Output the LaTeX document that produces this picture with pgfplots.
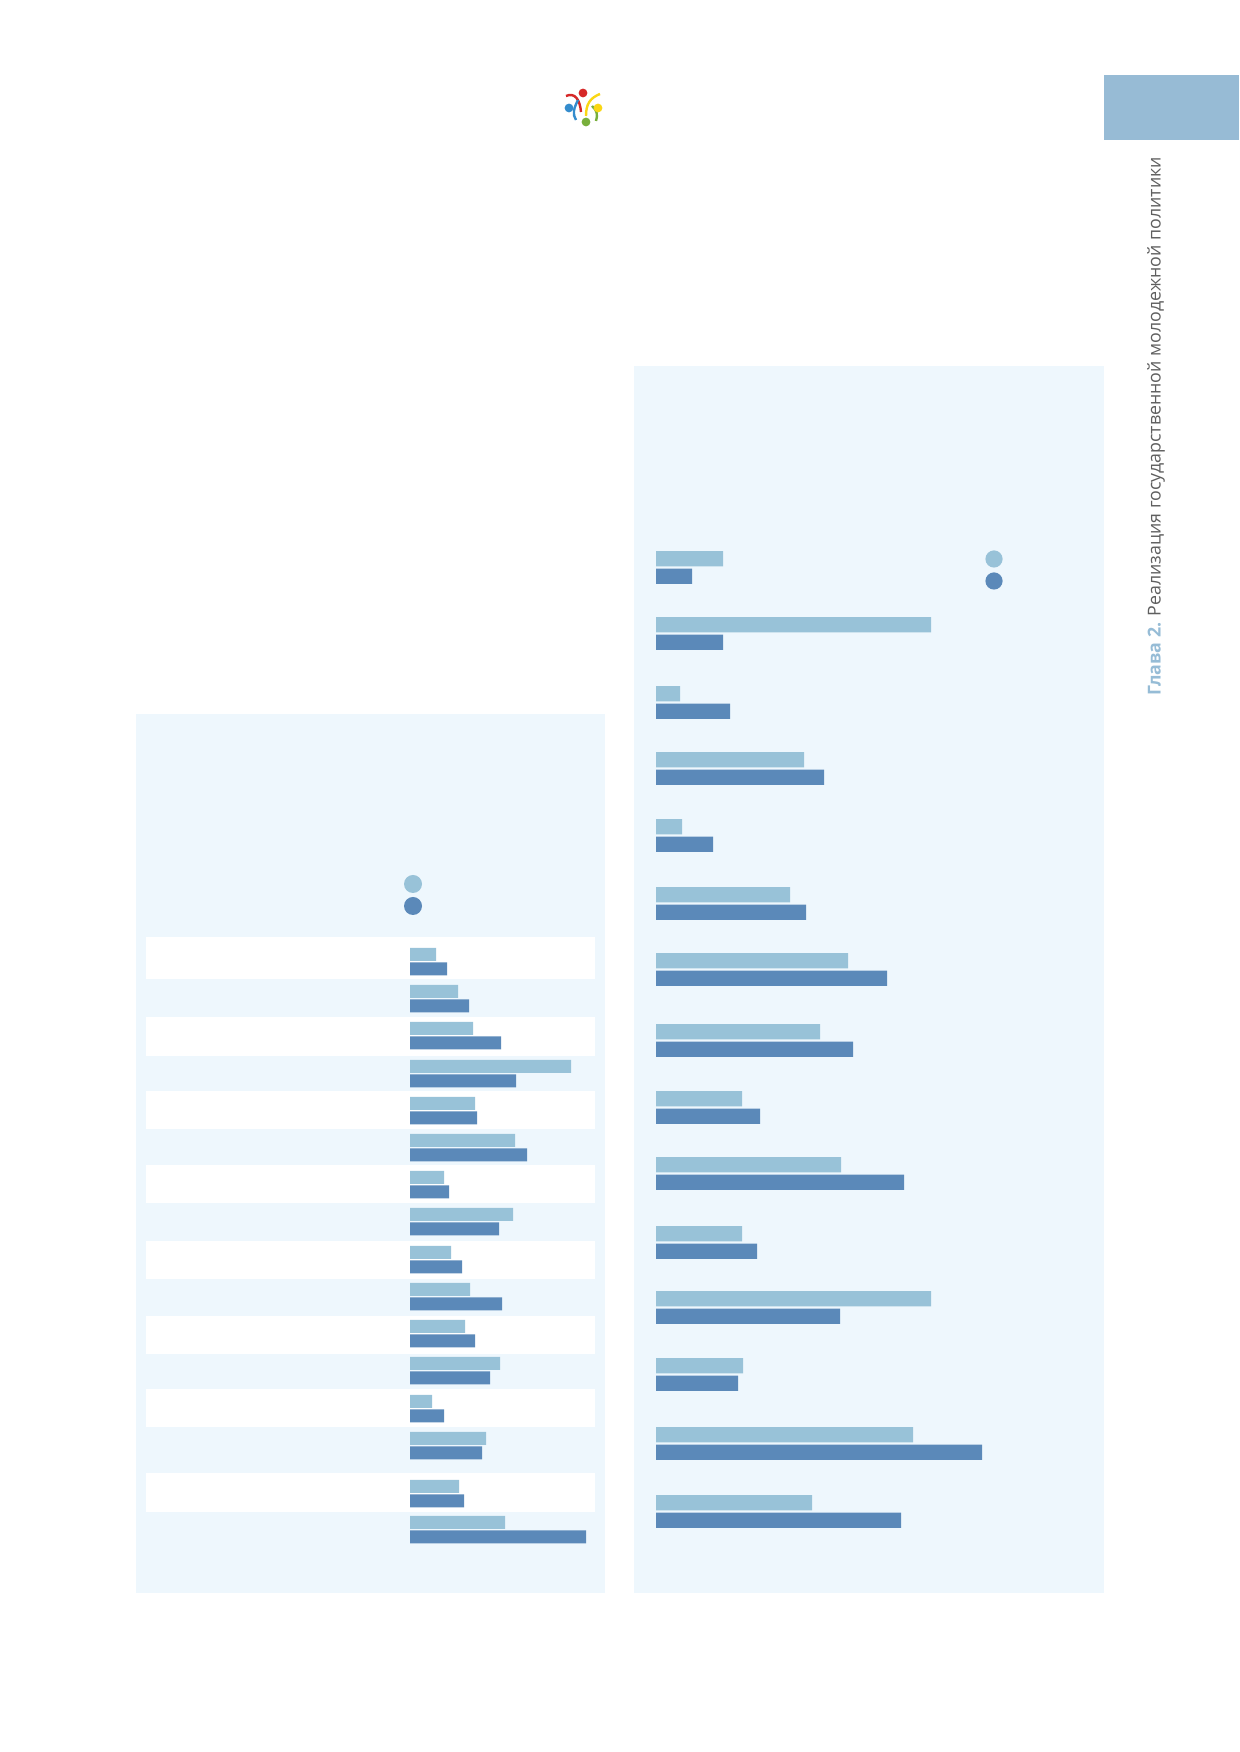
\documentclass[border=0pt]{standalone}
\usepackage{fontspec}
\setmainfont{Open Sans}
\usepackage{pgfplots}
\usepackage{pgfplotstable}
\pgfplotsset{compat=1.18}
\definecolor{panelbg}{RGB}{238,247,253}
\definecolor{lightc}{RGB}{152,194,216}
\definecolor{darkc}{RGB}{91,137,185}
\definecolor{blockc}{RGB}{151,187,213}
\definecolor{chapc}{RGB}{150,188,214}
\definecolor{textgray}{RGB}{95,95,95}
\definecolor{logored}{RGB}{214,40,40}
\definecolor{logoblue}{RGB}{52,140,205}
\definecolor{logoyellow}{RGB}{250,215,20}
\definecolor{logogreen}{RGB}{120,175,60}

% left panel: top = pixel row of light bar top, values = bar lengths
\pgfplotstableread{
top light dark
948 26 37
985 48 59
1022 63 91
1060 161 106
1097 65 67
1134 105 117
1171 34 39
1208 103 89
1246 41 52
1283 60 92
1320 55 65
1357 90 80
1395 22 34
1432 76 72
1480 49 54
1516 95 176
}\leftdata

\pgfplotstableread{
top light dark
551 67 36
617 275 67
686 24 74
752 148 168
819 26 57
887 134 150
953 192 231
1024 164 197
1091 86 104
1157 185 248
1226 86 101
1291 275 184
1358 87 82
1427 257 326
1495 156 245
}\rightdata

\begin{document}
\begin{tikzpicture}[x=0.5pt,y=0.5pt]
\fill[white] (0,0) rectangle (1239,1752);
\useasboundingbox (0,0) rectangle (1239,1752);
% top-right block
\fill[blockc] (1104,1752-75) rectangle (1239,1752-140);
% panels
\fill[panelbg] (136,1752-714) rectangle (605,1752-1593);
\fill[panelbg] (634,1752-366) rectangle (1104,1752-1593);
% white row stripes in left panel
\foreach \a/\b in {937/979,1017/1056,1091/1129,1165/1203,1241/1279,1316/1354,1389/1427,1473/1512}
  \fill[white] (146,1752-\a) rectangle (595,1752-\b);
% legend dots
\fill[lightc] (413,1752-884) circle[radius=4.5pt];
\fill[darkc] (413,1752-906) circle[radius=4.5pt];
\fill[lightc] (994,1752-559) circle[radius=4.3pt];
\fill[darkc] (994,1752-581) circle[radius=4.3pt];
% logo
\begin{scope}[line width=1.2pt]
\draw[logored] (566,1752-96) .. controls (575,1752-92) and (580,1752-100) .. (581,1752-112);
\draw[logoyellow] (600,1752-94) .. controls (590,1752-98) and (586,1752-104) .. (586,1752-116);
\draw[logoblue] (578,1752-100) .. controls (574,1752-108) and (572,1752-114) .. (576,1752-120);
\draw[logogreen] (592,1752-106) .. controls (597,1752-110) and (598,1752-115) .. (596,1752-121);
\end{scope}
\fill[logored] (583,1752-93) circle[radius=2.2pt];
\fill[logoblue] (569,1752-108) circle[radius=2.2pt];
\fill[logoyellow] (598,1752-108) circle[radius=2.2pt];
\fill[logogreen] (586,1752-122) circle[radius=2.2pt];
% chapter text
\node[rotate=90, anchor=west, inner sep=0pt, font=\fontsize{8.9}{10.5}\selectfont] at (1156,1752-696)
  {{\bfseries\color{chapc}Глава 2.} \color{textgray}Реализация государственной молодежной политики};

\begin{axis}[at={(68pt,519pt)}, anchor=north west, scale only axis, hide axis,
  width=234.5pt, height=439.5pt, xmin=-274, xmax=195, ymin=714, ymax=1593,
  y dir=reverse, xbar, bar width=13, bar shift=0pt, clip=false]
\addplot[fill=lightc, draw=none] table[x=light, y expr=\thisrow{top}+6.4] {\leftdata};
\addplot[fill=darkc, draw=none] table[x=dark, y expr=\thisrow{top}+20.8] {\leftdata};
\end{axis}

\begin{axis}[at={(317pt,693pt)}, anchor=north west, scale only axis, hide axis,
  width=235pt, height=613.5pt, xmin=-22, xmax=448, ymin=366, ymax=1593,
  y dir=reverse, xbar, bar width=15.3, bar shift=0pt, clip=false]
\addplot[fill=lightc, draw=none] table[x=light, y expr=\thisrow{top}+7.7] {\rightdata};
\addplot[fill=darkc, draw=none] table[x=dark, y expr=\thisrow{top}+25.3] {\rightdata};
\end{axis}
\end{tikzpicture}
\end{document}
